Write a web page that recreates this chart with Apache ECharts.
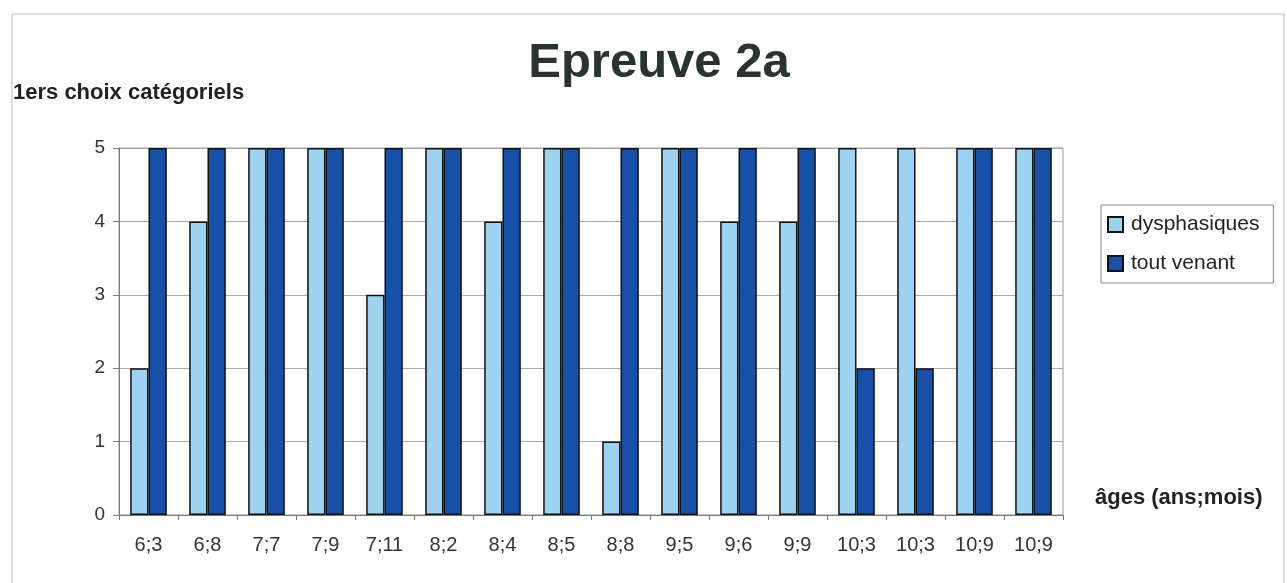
<!DOCTYPE html>
<html>
<head>
<meta charset="utf-8">
<script src="https://cdn.jsdelivr.net/npm/echarts@6/dist/echarts.min.js"></script>
<style>
  html, body { margin: 0; padding: 0; background: #fff; }
  #chart { width: 1287px; height: 583px; }
</style>
</head>
<body>
<div id="chart"></div>
<script>
// données
var ages = ['6;3', '6;8', '7;7', '7;9', '7;11', '8;2', '8;4', '8;5', '8;8', '9;5', '9;6', '9;9', '10;3', '10;3', '10;9', '10;9'];
var dysphasiques = [2, 4, 5, 5, 3, 5, 4, 5, 1, 5, 4, 4, 5, 5, 5, 5];
var toutVenant = [5, 5, 5, 5, 5, 5, 5, 5, 5, 5, 5, 5, 2, 2, 5, 5];
var yTicks = [0, 1, 2, 3, 4, 5];

var myChart = echarts.init(document.getElementById('chart'));

var font = '"Liberation Sans", Arial, sans-serif';

option = {
  animation: false,
  textStyle: { fontFamily: font },
  title: {
    text: 'Epreuve 2a',
    left: 654,
    textAlign: 'center',
    top: 34,
    textStyle: { fontSize: 49, fontWeight: 'bold', color: '#26352f', fontFamily: font }
  },
  legend: {
    orient: 'vertical',
    left: 1101,
    top: 205,
    padding: [9, 14, 9, 6],
    itemGap: 18,
    itemWidth: 15,
    itemHeight: 15,
    icon: 'rect',
    borderColor: '#888',
    borderWidth: 1,
    textStyle: { fontSize: 21, color: '#222', fontFamily: font, padding: [0, 0, 0, 3] },
    data: ['dysphasiques', 'tout venant']
  },
  grid: { left: 119, right: 224, top: 148, bottom: 68, show: true, borderColor: '#999', borderWidth: 1 },
  xAxis: {
    type: 'category',
    data: ages,
    name: 'âges (ans;mois)',
    nameLocation: 'end',
    nameGap: 32,
    nameTextStyle: { fontSize: 22, fontWeight: 'bold', color: '#222', verticalAlign: 'bottom', padding: [0, 0, 6, 0] },
    axisLine: { lineStyle: { color: '#777' } },
    axisTick: { show: true, length: 5, lineStyle: { color: '#777' } },
    axisLabel: { fontSize: 20, color: '#333', margin: 20 }
  },
  yAxis: {
    type: 'value',
    min: yTicks[0],
    max: yTicks[yTicks.length - 1],
    interval: 1,
    name: '1ers choix catégoriels',
    nameLocation: 'end',
    nameGap: 44,
    nameTextStyle: { fontSize: 22, fontWeight: 'bold', color: '#222', align: 'left', padding: [0, 0, 0, -106] },
    axisLine: { show: true, lineStyle: { color: '#777' } },
    axisTick: { show: true, length: 6, lineStyle: { color: '#777' } },
    axisLabel: { fontSize: 19, color: '#333', margin: 14 },
    splitLine: { lineStyle: { color: '#aaa' } }
  },
  series: [
    {
      name: 'dysphasiques',
      type: 'bar',
      data: dysphasiques,
      barGap: '0%',
      barCategoryGap: '38%',
      itemStyle: { color: '#9dd3f0', borderColor: '#111', borderWidth: 1.5 }
    },
    {
      name: 'tout venant',
      type: 'bar',
      data: toutVenant,
      barGap: '0%',
      barCategoryGap: '38%',
      itemStyle: { color: '#1650a8', borderColor: '#111', borderWidth: 1.5 }
    }
  ],
  graphic: [
    {
      type: 'rect',
      shape: { x: 12, y: 14, width: 1272, height: 590 },
      style: { fill: 'none', stroke: '#bbb', lineWidth: 1 },
      silent: true
    }
  ]
};

myChart.setOption(option);
</script>
</body>
</html>
